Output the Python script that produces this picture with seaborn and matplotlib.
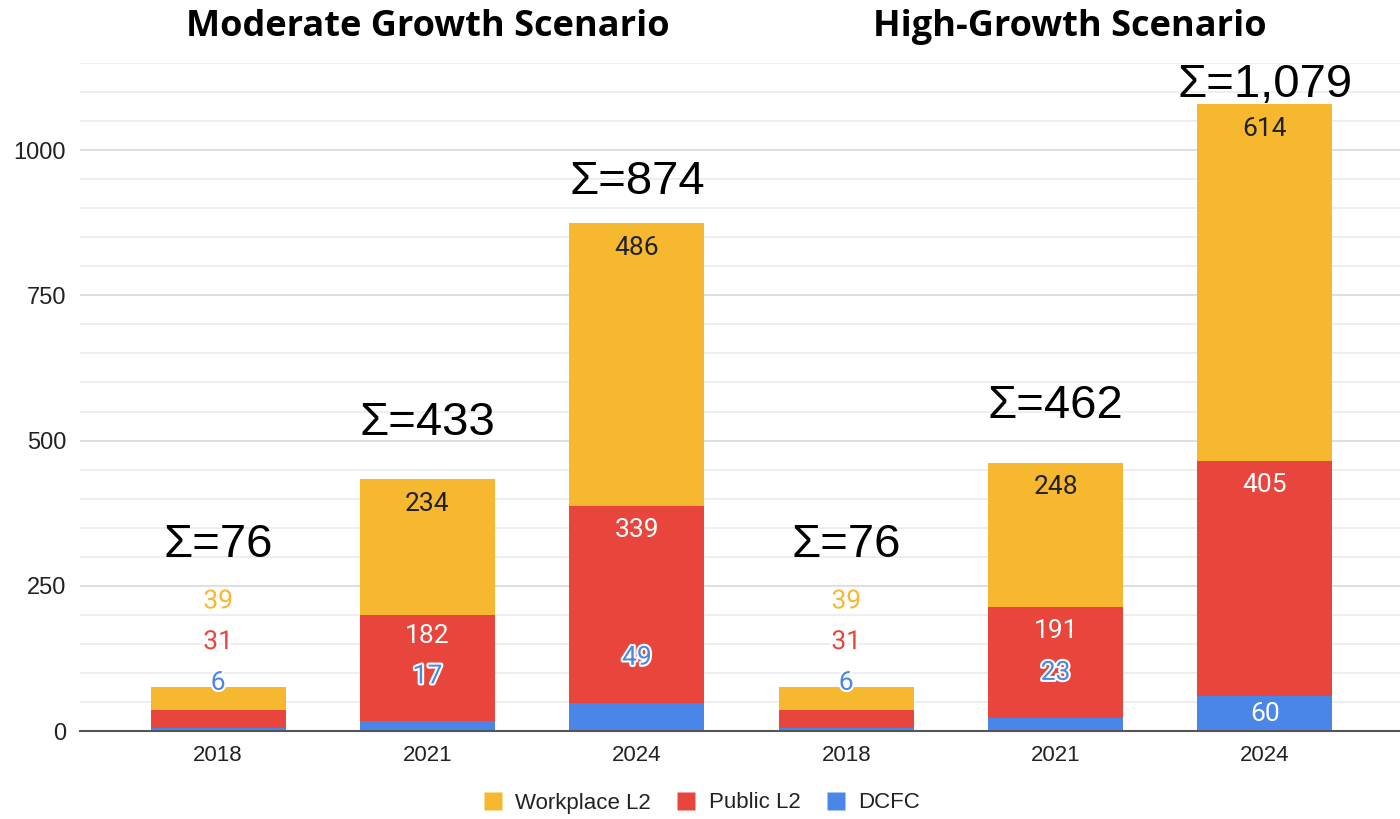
"""
Stacked bar chart of charging ports by scenario and year
"""

import matplotlib
matplotlib.use('Agg')
import matplotlib.pyplot as plt
import matplotlib.patheffects as pe
from matplotlib.lines import Line2D
import matplotlib.transforms as mtransforms
import numpy as np
import pandas as pd
import seaborn as sns

# Data
years = ['2018', '2021', '2024']
scenarios = ['Moderate Growth Scenario', 'High-Growth Scenario']
series_names = ['Workplace L2', 'Public L2', 'DCFC']

dcfc_moderate = [6, 17, 49]
public_moderate = [31, 182, 339]
workplace_moderate = [39, 234, 486]

dcfc_high = [6, 23, 60]
public_high = [31, 191, 405]
workplace_high = [39, 248, 614]

y_ticks = [0, 250, 500, 750, 1000]

# Style
YELLOW = '#F6B82E'
RED = '#E8453C'
BLUE = '#4A86E8'
DARK = '#202124'
ARIAL = ['Liberation Sans', 'DejaVu Sans']

# Build the table
rows = []
for scen, dc, pu, wp in [('Moderate', dcfc_moderate, public_moderate, workplace_moderate),
                         ('High', dcfc_high, public_high, workplace_high)]:
    for yr, d, p, w in zip(years, dc, pu, wp):
        rows.append({'bar': f'{scen} {yr}', 'year': yr,
                     'dcfc': d, 'public': p, 'workplace': w})
df = pd.DataFrame(rows)
df['cum_dcfc'] = df['dcfc']
df['cum_public'] = df['dcfc'] + df['public']
df['total'] = df['cum_public'] + df['workplace']
order = list(df['bar'])

sns.set_theme(style='white')
plt.rcParams['font.family'] = ['Roboto', 'DejaVu Sans']

fig = plt.figure(figsize=(14, 8.19), dpi=100)
ax = fig.add_axes([80 / 1400, 1 - 731 / 819, 1 - 80 / 1400, (731 - 63) / 819])

bar_w = 0.645
# stacked bars drawn as layered cumulative totals
sns.barplot(data=df, x='bar', y='total', order=order, color=YELLOW,
            width=bar_w, saturation=1, ax=ax, zorder=2)
sns.barplot(data=df, x='bar', y='cum_public', order=order, color=RED,
            width=bar_w, saturation=1, ax=ax, zorder=3)
sns.barplot(data=df, x='bar', y='cum_dcfc', order=order, color=BLUE,
            width=bar_w, saturation=1, ax=ax, zorder=4)
for p in ax.patches:
    p.set_edgecolor('none')

ax.set_ylim(0, 1150)
ax.set_xlim(-0.66, 5.645)
ax.set_yticks(y_ticks)
ax.set_yticks(np.arange(50, 1151, 50), minor=True)
ax.grid(axis='y', which='major', color='#d9d9d9', linewidth=1.2, zorder=0)
ax.grid(axis='y', which='minor', color='#ebebeb', linewidth=1.2, zorder=0)
ax.set_axisbelow(True)
ax.set_xticks(range(len(order)))
ax.set_xticklabels(df['year'], fontsize=16, color='#222222', family=ARIAL)
for lbl in ax.get_yticklabels():
    lbl.set_family(ARIAL)
ax.tick_params(axis='y', labelsize=17, labelcolor='#222222', pad=10, length=0)
ax.tick_params(axis='x', pad=10, length=0)
ax.set_xlabel('')
ax.set_ylabel('')
for side in ['top', 'right', 'left']:
    ax.spines[side].set_visible(False)
ax.spines['bottom'].set_color('#555555')
ax.spines['bottom'].set_linewidth(1.5)
ax.spines['bottom'].set_zorder(6)

# Value labels
inset = 42
outside_off = 77
min_gap = 70
fit_min = 55
halo = [pe.withStroke(linewidth=3, foreground='white')]
for i, r in df.iterrows():
    bottom = 0
    prev = None
    for val, col, inner_col in [(r['dcfc'], BLUE, 'white'),
                                (r['public'], RED, 'white'),
                                (r['workplace'], YELLOW, DARK)]:
        top = bottom + val
        if val >= fit_min:
            y = max(top - inset, bottom + val / 2)
            color, effects = inner_col, None
        else:
            y = top + outside_off
            color, effects = col, halo
        if prev is not None:
            y = max(y, prev + min_gap)
        ax.text(i, y, f'{val}', ha='center', va='center', fontsize=19,
                color=color, path_effects=effects, zorder=7)
        prev = y
        bottom = top
    # total above the bar
    base = max(r['total'], prev)
    sy = min(base + (97 if base < 800 else 71), 1112)
    ax.text(i, sy, f'\u03A3={r["total"]:,}', ha='center', va='center',
            fontsize=34, color='black', family=ARIAL, zorder=7)

# Scenario titles
trans = mtransforms.blended_transform_factory(ax.transData, fig.transFigure)
for xpos, title in zip([1, 4.07], scenarios):
    ax.text(xpos, 1 - 27 / 819, title, transform=trans, ha='center', va='center',
            fontsize=26, fontweight='bold', color='black',
            family=['Open Sans', 'DejaVu Sans'])

# Legend
handles = [Line2D([], [], marker='s', linestyle='none', markersize=13,
                  markerfacecolor=c, markeredgecolor='none')
           for c in [YELLOW, RED, BLUE]]
fig.legend(handles, series_names, loc='center', bbox_to_anchor=(702 / 1400, 1 - 803 / 819),
           ncol=3, frameon=False, handlelength=0.8, handletextpad=0.6,
           columnspacing=1.2, labelcolor='#222222', prop={'family': ARIAL, 'size': 16})

fig.savefig('out.png', dpi=100)
